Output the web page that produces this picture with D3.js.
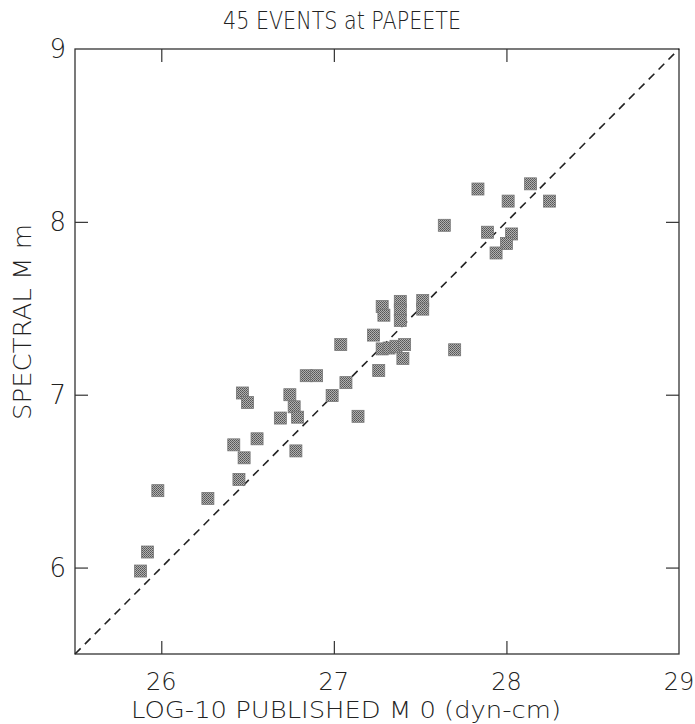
<!DOCTYPE html>
<html>
<head>
<meta charset="utf-8">
<script src="https://cdn.jsdelivr.net/npm/d3@7"></script>
<style>
  html, body { margin: 0; padding: 0; background: #fff; }
  svg text { font-family: "DejaVu Sans", sans-serif; font-weight: 200; fill: #222; }
</style>
</head>
<body>
<svg id="chart" width="695" height="724"></svg>
<script>
// Data
const publishedM0 = [25.88, 25.92, 25.98, 26.27, 26.45, 26.42, 26.48, 26.555, 26.47, 26.50,
  26.69, 26.745, 26.77, 26.79, 26.78, 26.99, 27.07, 27.14, 26.84, 26.90,
  27.04, 27.23, 27.26, 27.28, 27.32, 27.36, 27.41, 27.40, 27.70, 27.28,
  27.29, 27.385, 27.385, 27.385, 27.515, 27.515, 27.64, 27.835, 28.14, 28.01,
  28.25, 27.89, 28.03, 28.00, 27.94];
const spectralMm = [5.98, 6.09, 6.445, 6.40, 6.51, 6.71, 6.635, 6.745, 7.01, 6.955,
  6.865, 7.00, 6.93, 6.87, 6.675, 6.995, 7.07, 6.875, 7.11, 7.11,
  7.29, 7.345, 7.14, 7.265, 7.27, 7.28, 7.29, 7.21, 7.26, 7.51,
  7.46, 7.54, 7.49, 7.43, 7.545, 7.495, 7.98, 8.19, 8.22, 8.12,
  8.12, 7.94, 7.93, 7.875, 7.82];
const xTicks = [26, 27, 28, 29];
const yTicks = [6, 7, 8, 9];
const xDomain = [25.5, 29];
const yDomain = [5.5, 9];
const titleText = "45 EVENTS at PAPEETE";
const xLabel = "LOG-10 PUBLISHED M 0 (dyn-cm)";
const yLabel = "SPECTRAL M m";

const svg = d3.select("#chart");
const L = 75, R = 679, T = 49, B = 654;
const x = d3.scaleLinear().domain(xDomain).range([L, R]);
const y = d3.scaleLinear().domain(yDomain).range([B, T]);

// pattern for stippled squares
const defs = svg.append("defs");
const pat = defs.append("pattern").attr("id", "stip").attr("width", 2).attr("height", 2)
  .attr("patternUnits", "userSpaceOnUse");
pat.append("rect").attr("width", 2).attr("height", 2).attr("fill", "#b0b0b0");
pat.append("rect").attr("width", 1).attr("height", 1).attr("fill", "#555");
pat.append("rect").attr("x", 1).attr("y", 1).attr("width", 1).attr("height", 1).attr("fill", "#666");

// frame
svg.append("rect").attr("x", L).attr("y", T).attr("width", R - L).attr("height", B - T)
  .attr("fill", "none").attr("stroke", "#333").attr("stroke-width", 1.3);

// axes with inward ticks
const tickLen = 13;
svg.append("g").attr("transform", `translate(0,${B})`)
  .call(d3.axisBottom(x).tickValues(xTicks.filter(d => d < 29)).tickSize(-tickLen).tickFormat(""))
  .call(g => g.select(".domain").remove());
svg.append("g").attr("transform", `translate(0,${T})`)
  .call(d3.axisTop(x).tickValues(xTicks.filter(d => d < 29)).tickSize(-tickLen).tickFormat(""))
  .call(g => g.select(".domain").remove());
svg.append("g").attr("transform", `translate(${L},0)`)
  .call(d3.axisLeft(y).tickValues(yTicks.filter(d => d < 9)).tickSize(-tickLen).tickFormat(""))
  .call(g => g.select(".domain").remove());
svg.append("g").attr("transform", `translate(${R},0)`)
  .call(d3.axisRight(y).tickValues(yTicks.filter(d => d < 9)).tickSize(-tickLen).tickFormat(""))
  .call(g => g.select(".domain").remove());
svg.selectAll(".tick line").attr("stroke", "#333").attr("stroke-width", 1.2);

// tick labels
svg.append("g").selectAll("text").data(xTicks).join("text")
  .attr("x", d => x(d)).attr("y", 690).attr("text-anchor", "middle")
  .attr("font-size", 24).text(d => d);
svg.append("g").selectAll("text").data(yTicks).join("text")
  .attr("x", 66).attr("y", d => y(d) + 9).attr("text-anchor", "end")
  .attr("font-size", 26).text(d => d);

// titles
svg.append("text").attr("x", 342).attr("y", 29).attr("text-anchor", "middle")
  .attr("font-size", 24).attr("textLength", 238).attr("lengthAdjust", "spacingAndGlyphs")
  .text(titleText);
svg.append("text").attr("x", 346).attr("y", 718).attr("text-anchor", "middle")
  .attr("font-size", 23).attr("textLength", 430).attr("lengthAdjust", "spacingAndGlyphs")
  .text(xLabel);
svg.append("text").attr("transform", "translate(31,322) rotate(-90)").attr("text-anchor", "middle")
  .attr("font-size", 24).attr("textLength", 196).attr("lengthAdjust", "spacingAndGlyphs")
  .text(yLabel);

// 1:1 dashed line
svg.append("line")
  .attr("x1", x(xDomain[0])).attr("y1", y(yDomain[0]))
  .attr("x2", x(xDomain[1])).attr("y2", y(yDomain[1]))
  .attr("stroke", "#222").attr("stroke-width", 1.6).attr("stroke-dasharray", "8,6");

// points
const pts = publishedM0.map((v, i) => ({ x: v, y: spectralMm[i] }));
const s = 12;
svg.append("g").selectAll("rect").data(pts).join("rect")
  .attr("x", d => x(d.x) - s / 2).attr("y", d => y(d.y) - s / 2)
  .attr("width", s).attr("height", s)
  .attr("fill", "url(#stip)").attr("stroke", "#777").attr("stroke-width", 0.8);
</script>
</body>
</html>
